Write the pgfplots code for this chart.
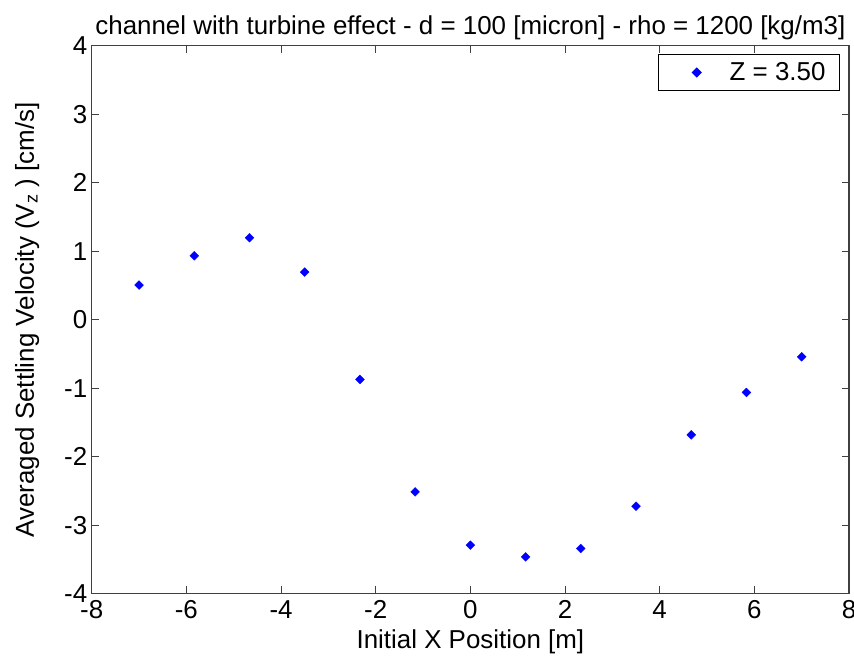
\documentclass[border=0pt]{standalone}
\usepackage{pgfplots}
\pgfplotsset{compat=1.18}
\usepackage{fontspec}
\setmainfont{Liberation Sans}
\begin{document}
\begin{tikzpicture}
\begin{axis}[
  scale only axis,
  width=757bp, height=548bp,
  xmin=-8, xmax=8, ymin=-4, ymax=4,
  xtick={-8,-6,...,8}, ytick={-4,-3,...,4},
  tick align=inside,
  major tick length=7.5bp,
  axis line style={line width=1.1bp, black!75},
  tick style={line width=1bp, black!75},
  /pgf/number format/assume math mode=true,
  tick label style={font=\fontsize{26}{29}\selectfont},
  xticklabel style={yshift=-3bp},
  yticklabel style={xshift=-1bp},
  label style={font=\fontsize{26}{29}\selectfont},
  title style={font=\fontsize{26}{29}\selectfont, yshift=-4bp},
  title={channel with turbine effect - d = 100 [micron] - rho = 1200 [kg/m3]},
  xlabel={Initial X Position [m]},
  xlabel style={yshift=-4bp},
  ylabel={Averaged Settling Velocity (V\textsubscript{z} ) [cm/s]},
  ylabel style={yshift=18bp},
  legend style={at={(1,1)}, anchor=north east, xshift=-9bp, yshift=-8bp,
    font=\fontsize{26}{29}\selectfont, draw=black, line width=1bp,
    inner xsep=12bp, inner ysep=6.5bp},
  legend cell align=left,
  legend image code/.code={\path[draw=none,fill=none] (0bp,-4bp) rectangle (57bp,4bp); \draw plot coordinates {(26bp,0bp)};},
]
\addplot[only marks, mark=square*, mark options={rotate=45}, mark size=3.1bp, color={rgb,255:red,0;green,0;blue,255}] coordinates {
(-7.000, 0.507)
(-5.833, 0.934)
(-4.667, 1.197)
(-3.500, 0.696)
(-2.333, -0.870)
(-1.167, -2.511)
(0.000, -3.289)
(1.167, -3.460)
(2.333, -3.337)
(3.500, -2.720)
(4.667, -1.679)
(5.833, -1.060)
(7.000, -0.540)
};
\addlegendentry{Z = 3.50}
\end{axis}
\pgfresetboundingbox
\path[use as bounding box] ([xshift=-91.7bp,yshift=-67.3bp]current axis.south west) rectangle ([xshift=5bp,yshift=45.7bp]current axis.north east);
\end{tikzpicture}
\end{document}
